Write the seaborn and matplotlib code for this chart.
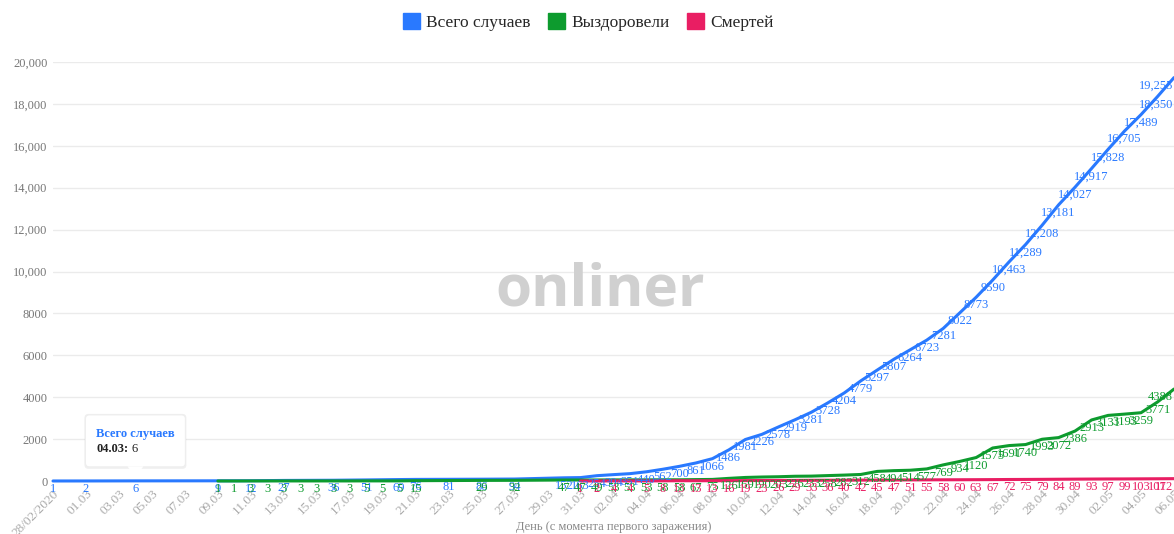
import numpy as np
import pandas as pd
import matplotlib
matplotlib.use('Agg')
import matplotlib.pyplot as plt
from matplotlib.patches import Patch, FancyBboxPatch, Polygon
from matplotlib.transforms import IdentityTransform
from matplotlib.ticker import FuncFormatter, MultipleLocator
import seaborn as sb

# Дни с 28.02 по 06.05 (по одному на точку)
days = pd.date_range('2020-02-28', '2020-05-06', freq='D')
day_labels = ['28/02/2020'] + [d.strftime('%d.%m') for d in days[1:]]

nan = np.nan
series_names = ['Всего случаев', 'Выздоровели', 'Смертей']
colours = ['#2979ff', '#0d9b2e', '#e91e63']

# пропуски - дни без данных
total = [1, nan, 2, nan, nan, 6, nan, nan, nan, nan,
         9, nan, 12, nan, 27, nan, nan, 36, nan, 51,
         nan, 69, 76, nan, 81, nan, 86, nan, 94, nan,
         nan, 152, 163, 254, 304, 351, 440, 562, 700, 861,
         1066, 1486, 1981, 2226, 2578, 2919, 3281, 3728, 4204, 4779,
         5297, 5807, 6264, 6723, 7281, 8022, 8773, 9590, 10463, 11289,
         12208, 13181, 14027, 14917, 15828, 16705, 17489, 18350, 19255]

recovered = [nan, nan, nan, nan, nan, nan, nan, nan, nan, nan,
             1, 1, 3, 3, 3, 3, 3, 3, 3, 5,
             5, 5, 15, nan, nan, nan, 29, nan, 32, nan,
             nan, 47, 47, 49, 53, 53, 53, 58, 58, 67,
             75, 126, 169, 190, 203, 226, 233, 258, 282, 312,
             458, 494, 514, 577, 769, 934, 1120, 1575, 1691, 1740,
             1993, 2072, 2386, 2913, 3131, 3193, 3259, 3771, 4388]

deaths = [nan] * 32 + [1, 2, 4, 4, 5, 8, 13, 13,
                       13, 16, 19, 23, 26, 29, 33, 36, 40, 42,
                       45, 47, 51, 55, 58, 60, 63, 67, 72, 75,
                       79, 84, 89, 93, 97, 99, 103, 107, 112]

tip_day = 5  # подсказка на 04.03

sb.set_style('white')
plt.rcParams['font.family'] = ['Liberation Serif', 'DejaVu Serif']

W, H = 1174, 534
fig = plt.figure(figsize=(W / 100, H / 100), dpi=100)
ax = fig.add_axes([53 / W, 53 / H, (W - 53) / W, 419 / H])

frame = pd.DataFrame({'day': np.arange(len(days)),
                      series_names[0]: total,
                      series_names[1]: recovered,
                      series_names[2]: deaths})
Long = frame.melt(id_vars='day', var_name='series', value_name='value')

sb.lineplot(data=Long, x='day', y='value', hue='series', hue_order=series_names,
            palette=colours, estimator=None, linewidth=2.2, legend=False, ax=ax)
for line in ax.lines:
    line.set_clip_on(False)
    line.set_solid_joinstyle('round')


def fmt(v):
    v = int(v)
    return f'{v:,}' if v >= 10000 else str(v)


ax.set_xlim(0, len(days) - 1)
ax.set_ylim(0, 20000)
r = fig.canvas.get_renderer()

# подписи значений под точками (не вылезают за правый край)
for name, c in zip(series_names, colours):
    for d, v in zip(frame['day'], frame[name]):
        if np.isnan(v):
            continue
        a = ax.annotate(fmt(v), (d, v), xytext=(0, -8), textcoords='offset pixels',
                        ha='center', va='center', color=c, fontsize=9,
                        annotation_clip=False, zorder=5)
        over = a.get_window_extent(r).x1 - (W - 1)
        if over > 0:
            a.set_position((-over, -8))

ax.yaxis.set_major_locator(MultipleLocator(2000))
ax.yaxis.set_major_formatter(FuncFormatter(lambda v, p: fmt(v)))
ax.set_xticks(range(0, len(days), 2))
ax.set_xticklabels(day_labels[::2], rotation=45, ha='right', rotation_mode='anchor')
ax.tick_params(axis='y', length=0, pad=4, labelsize=9, labelcolor='#777777')
ax.tick_params(axis='x', length=0, pad=5, labelsize=9.5, labelcolor='#aaaaaa')
ax.yaxis.grid(True, color='#ebebeb', lw=1)
ax.xaxis.grid(False)
for s in ax.spines.values():
    s.set_visible(False)
ax.set_ylabel('')
ax.set_xlabel('День (с момента первого заражения)', fontsize=9, color='#888888')
ax.xaxis.set_label_coords(0.5, -0.11)
ax.xaxis.label.set_va('center')

# легенда
handles = [Patch(facecolor=c, edgecolor=c, label=n) for n, c in zip(series_names, colours)]
fig.legend(handles=handles, loc='center', bbox_to_anchor=(0.501, 1 - 22 / H), ncol=3,
           frameon=False, fontsize=12.5, handlelength=1.0, handleheight=1.0,
           handletextpad=0.35, columnspacing=1.0)

# водяной знак
fig.text(600 / W, 1 - 290 / H, 'onliner', fontfamily='Open Sans', fontweight='bold',
         fontsize=42, color='#d0d0d0', ha='center', va='center', zorder=0)

# подсказка
px, py = ax.transData.transform((tip_day, total[tip_day]))
ident = IdentityTransform()
shadow = FancyBboxPatch((px - 51, py + 12), 102, 55, boxstyle='round,pad=0,rounding_size=4',
                        transform=ident, fc='#000000', ec='none', alpha=0.06, zorder=9)
box = FancyBboxPatch((px - 50, py + 14), 100, 52, boxstyle='round,pad=0,rounding_size=4',
                     transform=ident, fc='white', ec='#eeeeee', lw=0.8, zorder=10)
tri = Polygon([(px - 8, py + 14.5), (px + 8, py + 14.5), (px, py + 4)], closed=True,
              transform=ident, fc='white', ec='none', zorder=10)
for p in (shadow, box, tri):
    fig.add_artist(p)
fig.text(px - 39, py + 47, series_names[0], transform=ident, color=colours[0],
         fontweight='bold', fontsize=9, va='center', ha='left', zorder=11)
t1 = fig.text(px - 39, py + 32, day_labels[tip_day] + ':', transform=ident, color='#222222',
              fontweight='bold', fontsize=9, va='center', ha='left', zorder=11)
ext = t1.get_window_extent(r)
fig.text(ext.x1 + 3, py + 32, str(total[tip_day]), transform=ident, color='#222222',
         fontsize=9, va='center', ha='left', zorder=11)

fig.savefig('out.png', dpi=100)
